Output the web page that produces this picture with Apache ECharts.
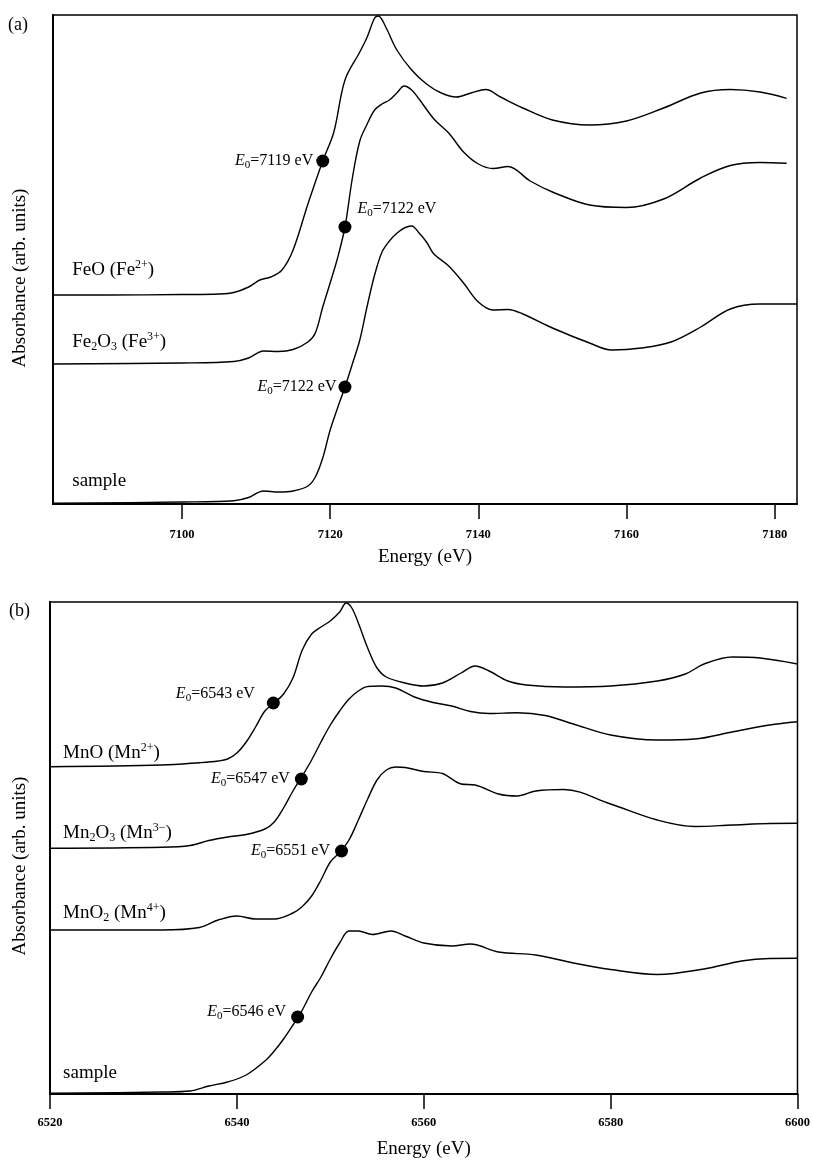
<!DOCTYPE html>
<html>
<head>
<meta charset="utf-8">
<script src="https://cdn.jsdelivr.net/npm/echarts@6/dist/echarts.min.js"></script>
<style>
html, body { margin: 0; padding: 0; background: #fff; }
#main { width: 813px; height: 1162px; }
</style>
</head>
<body>
<div id="main"></div>
<script>
// (a) Fe K-edge spectra, energy (eV) vs absorbance (arb. units, offset per curve)
var feoE = [7082.6, 7090, 7100, 7105, 7107, 7109, 7110.5, 7112, 7113.5, 7115, 7117, 7119, 7120.5, 7122, 7124, 7125, 7126, 7126.5, 7127.5, 7129, 7131, 7133, 7135, 7137, 7139, 7141, 7143, 7146, 7150, 7155, 7160, 7165, 7170, 7174, 7178, 7181.6];
var feoA = [209, 209, 209.5, 210, 211.5, 217, 224, 227, 234, 254, 300, 343, 372, 424, 452, 467, 486, 488, 477, 454, 434, 420, 411, 407, 411, 414.5, 407, 396, 384, 379, 383, 396, 411, 414.5, 412, 405.7];

var fe2o3E = [7082.6, 7100, 7107, 7109, 7111, 7113, 7115, 7117, 7118, 7119, 7120, 7121, 7122, 7123, 7124, 7125, 7126, 7127, 7128, 7129, 7130, 7131, 7132, 7134, 7136, 7138, 7140, 7142, 7144, 7147, 7150, 7155, 7160, 7165, 7170, 7174, 7178, 7181.6];
var fe2o3A = [140, 141, 142.5, 146, 153, 152.5, 154.5, 162, 171, 197, 221, 246, 277, 326, 363, 380, 394, 400, 404, 411, 418, 414, 405, 385, 371, 352, 340, 335.5, 337.5, 323, 312, 299, 296.5, 305, 326, 338.5, 341.5, 340.7];

var feSampleE = [7082.6, 7100, 7107, 7109, 7111, 7113, 7115, 7117, 7118, 7119, 7120, 7121, 7122, 7123, 7124, 7125, 7126, 7127, 7128, 7129, 7130, 7131, 7132, 7133, 7134, 7136, 7138, 7140, 7142, 7144, 7146, 7150, 7155, 7158, 7162, 7166, 7170, 7174, 7178, 7183];
var feSampleA = [0.7, 2, 3.3, 6.5, 13, 12, 13, 18, 27, 46, 74, 96, 117, 140, 164, 198, 229, 252, 263, 270.7, 276, 278, 271, 262, 250, 238, 221, 202, 194, 194.5, 190, 176, 161, 154, 156, 162, 177, 195, 200, 200];

// E0 markers on the Fe curves
var feDotE = [7119, 7122, 7122];
var feDotA = [343, 277, 117];
var feDotText = ['7119', '7122', '7122'];

// (b) Mn K-edge spectra
var mnoE = [6520, 6532, 6536, 6538, 6539, 6540, 6541, 6542, 6543, 6544, 6545, 6546, 6547, 6548, 6549, 6550, 6551, 6551.7, 6552.3, 6553, 6554, 6555, 6556, 6558, 6560, 6562, 6564, 6565.5, 6567, 6569, 6571, 6575, 6580, 6585, 6588, 6590, 6593, 6596, 6600];
var mnoA = [327.3, 329, 331.3, 333, 335, 341, 352, 367, 383, 391, 400, 416, 444, 460, 467, 473, 482, 491, 486, 471, 446, 426, 417, 411, 408, 411, 421, 428, 423, 413, 409, 407, 408, 413, 420, 430, 437, 436, 430];

var mn2o3E = [6520, 6532, 6535, 6537, 6539, 6541, 6543, 6544, 6545, 6546, 6547, 6548, 6549, 6550, 6551, 6552, 6553, 6554, 6555.5, 6557, 6559, 6561, 6563, 6565, 6567, 6570, 6573, 6576, 6580, 6585, 6589, 6593, 6597, 6600];
var mn2o3A = [245.7, 246.7, 248.5, 253.5, 257, 259.5, 265, 272, 286, 303, 318, 334, 352, 369, 383, 395, 403, 407.5, 408, 406, 397, 391.5, 388, 382.5, 380.5, 381.3, 378.5, 370, 359, 354, 355, 362, 369, 372.3];

var mno2E = [6520, 6532, 6536, 6538, 6540, 6542, 6544, 6546, 6547, 6548, 6549, 6550, 6551, 6552, 6553, 6554, 6555, 6556, 6557, 6558, 6560, 6562, 6564, 6565.5, 6568, 6570, 6572, 6575, 6580, 6585, 6589, 6593, 6597, 6600];
var mno2A = [164, 164, 166.5, 174, 178, 175, 175, 181, 187.5, 198, 214, 232, 241.5, 254, 274, 295, 314, 324, 327, 326.5, 322.5, 320.5, 310, 309, 300, 298, 303, 304.5, 290, 274, 267.5, 269, 270.5, 270.7];

var mnSampleE = [6520, 6532, 6535, 6537, 6539, 6541, 6543, 6544, 6545, 6546, 6547, 6548, 6549, 6550, 6551, 6552, 6553, 6554.5, 6556.5, 6558, 6560, 6563, 6565, 6568, 6572, 6576, 6580, 6585, 6590, 6594, 6597, 6600];
var mnSampleA = [0.7, 2, 3, 8, 12, 19, 33, 43, 55, 69, 84, 102, 117, 135, 151, 163, 163, 159.5, 163, 158, 151, 148, 150, 142, 139, 131, 124.5, 119.5, 125, 133, 135.5, 135.7];

// E0 markers on the Mn curves
var mnDotE = [6543.9, 6546.9, 6551.2, 6546.5];
var mnDotA = [391, 315, 243, 77];
var mnDotText = ['6543', '6547', '6551', '6546'];

var feTicks = [7100, 7120, 7140, 7160, 7180];
var mnTicks = [6520, 6540, 6560, 6580, 6600];

var serif = "'Liberation Serif', 'Times New Roman', serif";

function zip(xs, ys) {
  return xs.map(function (x, i) { return [x, ys[i]]; });
}

var nameRich = {
  n: { fontFamily: serif, fontSize: 19, lineHeight: 22, color: '#000' },
  s: { fontFamily: serif, fontSize: 12, lineHeight: 12, verticalAlign: 'bottom', color: '#000' },
  p: { fontFamily: serif, fontSize: 12, lineHeight: 12, verticalAlign: 'top', color: '#000' }
};
var e0Rich = {
  i: { fontFamily: serif, fontSize: 16, fontStyle: 'italic', lineHeight: 20, color: '#000' },
  s: { fontFamily: serif, fontSize: 11, lineHeight: 10, verticalAlign: 'bottom', color: '#000' },
  n: { fontFamily: serif, fontSize: 16, lineHeight: 20, color: '#000' }
};

function curve(xi, e, a) {
  return {
    type: 'line', xAxisIndex: xi, yAxisIndex: xi,
    data: zip(e, a), showSymbol: false, smooth: 0.35,
    lineStyle: { color: '#000', width: 1.4 }, silent: true
  };
}

function nameTags(xi, items) {
  return {
    type: 'scatter', xAxisIndex: xi, yAxisIndex: xi, symbolSize: 0, silent: true,
    itemStyle: { opacity: 1 },
    data: items.map(function (it) {
      return { value: it[0], label: { formatter: it[1] } };
    }),
    label: { show: true, position: 'right', distance: 0, color: '#000', rich: nameRich }
  };
}

// label placement per dot: [position, distance, offset]
var feDotPlace = [['left', 3, [0, 0]], ['right', 6, [0, -18]], ['left', 2, [0, 0]]];
var mnDotPlace = [['left', 12, [0, -9]], ['left', 5, [0, 0]], ['left', 5, [0, 0]], ['left', 5, [0, -5]]];

function dots(xi, e, a, txt, place) {
  return {
    type: 'scatter', xAxisIndex: xi, yAxisIndex: xi, symbolSize: 13, z: 5, silent: true,
    itemStyle: { color: '#000', opacity: 1 },
    data: e.map(function (v, i) {
      return {
        value: [v, a[i]],
        label: {
          show: true, position: place[i][0], distance: place[i][1], offset: place[i][2],
          color: '#000', formatter: '{i|E}{s|0}{n|=' + txt[i] + ' eV}', rich: e0Rich
        }
      };
    })
  };
}

function xAxis(gi, min, max, ticks, gap, margin) {
  return {
    type: 'value', gridIndex: gi, min: min, max: max,
    name: 'Energy (eV)', nameLocation: 'middle', nameGap: gap,
    nameTextStyle: { fontFamily: serif, fontSize: 19, color: '#000' },
    axisLine: { show: true, lineStyle: { color: '#000', width: 2 } },
    axisTick: { show: true, inside: false, length: 15, customValues: ticks, lineStyle: { color: '#000', width: 1.5 } },
    axisLabel: {
      customValues: ticks, margin: margin, fontFamily: serif, fontSize: 12.5, fontWeight: 'bold', color: '#000',
      formatter: function (v) { return String(v); }
    },
    splitLine: { show: false }
  };
}

function yAxis(gi, max) {
  return {
    type: 'value', gridIndex: gi, min: 0, max: max,
    axisLine: { show: true, lineStyle: { color: '#000', width: 2 } },
    axisTick: { show: false }, axisLabel: { show: false }, splitLine: { show: false }
  };
}

var chart = echarts.init(document.getElementById('main'));
chart.setOption({
  animation: false,
  backgroundColor: '#fff',
  grid: [
    { left: 53, top: 15, width: 744, height: 489, show: true, borderColor: '#000', borderWidth: 1.5 },
    { left: 50, top: 602, width: 748, height: 492, show: true, borderColor: '#000', borderWidth: 1.5 }
  ],
  xAxis: [
    xAxis(0, 7082.6, 7183, feTicks, 44, 24),
    xAxis(1, 6520, 6600, mnTicks, 46, 22)
  ],
  yAxis: [yAxis(0, 489), yAxis(1, 492)],
  graphic: [
    { type: 'text', left: 8, top: 16, style: { text: '(a)', font: '18px ' + serif, fill: '#000' } },
    { type: 'text', left: 9, top: 602, style: { text: '(b)', font: '18px ' + serif, fill: '#000' } },
    { type: 'text', x: 20, y: 278, rotation: Math.PI / 2,
      style: { text: 'Absorbance (arb. units)', font: '19px ' + serif, fill: '#000', align: 'center', verticalAlign: 'middle' } },
    { type: 'text', x: 20, y: 866, rotation: Math.PI / 2,
      style: { text: 'Absorbance (arb. units)', font: '19px ' + serif, fill: '#000', align: 'center', verticalAlign: 'middle' } }
  ],
  series: [
    curve(0, feoE, feoA),
    curve(0, fe2o3E, fe2o3A),
    curve(0, feSampleE, feSampleA),
    dots(0, feDotE, feDotA, feDotText, feDotPlace),
    nameTags(0, [
      [[7085.2, 234], '{n|FeO (Fe}{p|2+}{n|)}'],
      [[7085.2, 162], '{n|Fe}{s|2}{n|O}{s|3}{n| (Fe}{p|3+}{n|)}'],
      [[7085.2, 23], '{n|sample}']
    ]),
    curve(1, mnoE, mnoA),
    curve(1, mn2o3E, mn2o3A),
    curve(1, mno2E, mno2A),
    curve(1, mnSampleE, mnSampleA),
    dots(1, mnDotE, mnDotA, mnDotText, mnDotPlace),
    nameTags(1, [
      [[6521.4, 341], '{n|MnO (Mn}{p|2+}{n|)}'],
      [[6521.4, 261], '{n|Mn}{s|2}{n|O}{s|3}{n| (Mn}{p|3\u2212}{n|)}'],
      [[6521.4, 181], '{n|MnO}{s|2}{n| (Mn}{p|4+}{n|)}'],
      [[6521.4, 21], '{n|sample}']
    ])
  ]
});
</script>
</body>
</html>
